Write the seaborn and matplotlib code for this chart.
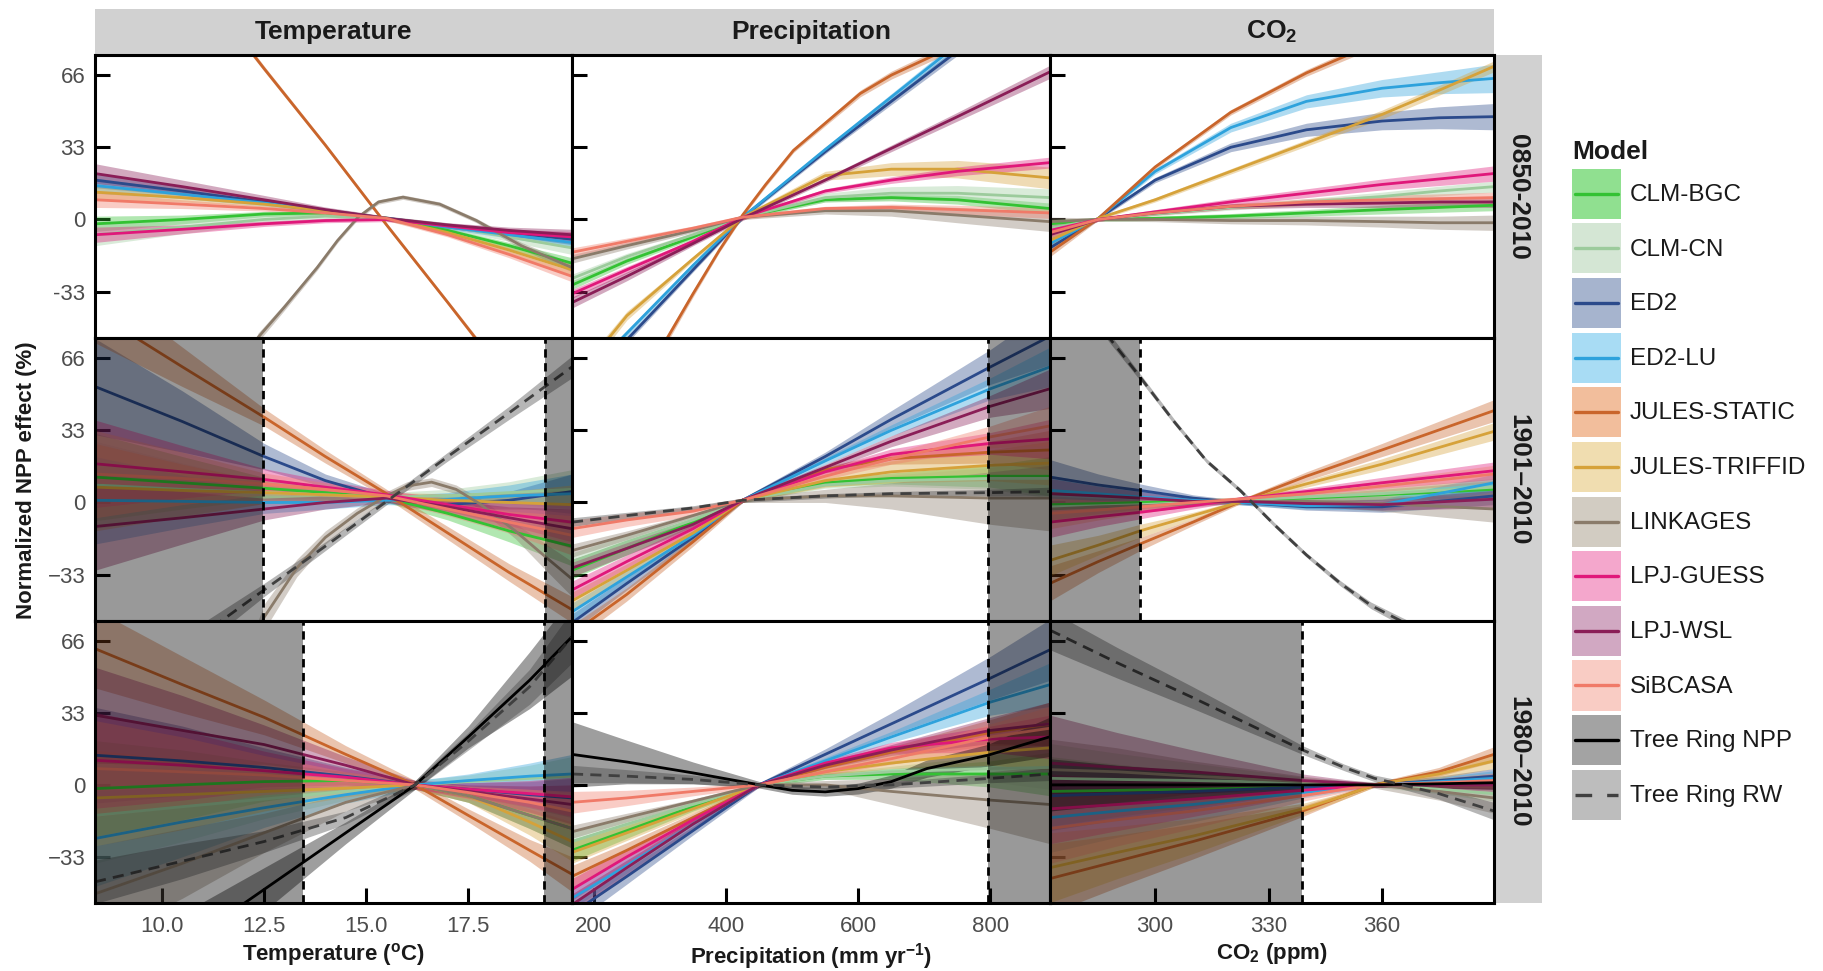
import matplotlib
matplotlib.use("Agg")
import numpy as np
import pandas as pd
import matplotlib.pyplot as plt
import seaborn as sns
from matplotlib.patches import Rectangle
from matplotlib.lines import Line2D
from matplotlib.legend_handler import HandlerBase

sns.set_theme(style="white")
plt.rcParams["font.family"] = ["Liberation Sans", "DejaVu Sans"]
plt.rcParams["mathtext.default"] = "regular"

# ---------------------------------------------------------------- categories
MODELS = ["CLM-BGC", "CLM-CN", "ED2", "ED2-LU", "JULES-STATIC", "JULES-TRIFFID",
          "LINKAGES", "LPJ-GUESS", "LPJ-WSL", "SiBCASA", "Tree Ring NPP", "Tree Ring RW"]
LINE_COLORS = ["#33C233", "#9CCB9C", "#2B4A8B", "#2EA2DC", "#C9652B", "#D6A23A",
               "#8A7B6A", "#E0187A", "#8A1E57", "#F07A68", "#000000", "#404040"]
KEY_FILLS = ["#90E090", "#D4E6D4", "#A6B4CE", "#A8DCF4", "#F2BE9C", "#F0DDB0",
             "#D2CCC2", "#F4A7CC", "#D1A8C2", "#F9CCC4", "#A3A3A3", "#BDBDBD"]

COLUMN_TITLES = ["Temperature", "Precipitation", "CO$_2$"]
ROW_TITLES = ["0850-2010", "1901\u20132010", "1980\u20132010"]
X_LABELS = ["Temperature ($^{o}$C)", "Precipitation (mm yr$^{-1}$)", "CO$_2$ (ppm)"]
Y_LABEL = "Normalized NPP effect (%)"
X_LIMITS = [(8.36, 20.04), (167, 890), (272.2, 389.6)]
X_TICKS = [[10.0, 12.5, 15.0, 17.5], [200, 400, 600, 800], [300, 330, 360]]
X_TICK_LABELS = [["10.0", "12.5", "15.0", "17.5"], ["200", "400", "600", "800"],
                 ["300", "330", "360"]]
Y_LIMITS = (-54.2, 75.2)
Y_TICKS = [-33, 0, 33, 66]
Y_TICK_LABELS = [["-33", "0", "33", "66"], ["\u221233", "0", "33", "66"],
                 ["\u221233", "0", "33", "66"]]

# ---------------------------------------------------------------- 0850-2010
TEMP_X_0850 = [8.36, 10.5, 12.5, 14.0, 15.5, 17.0, 18.5, 20.04]
TEMP_Y_0850 = {
    "CLM-BGC": [-2, 0, 2.5, 3, 0.5, -5, -12, -20],
    "CLM-CN": [-7, -3.5, 0, 1.5, 0.5, -3, -8, -13],
    "ED2": [18, 13, 8, 4, 0.5, -3, -6, -9],
    "ED2-LU": [15.5, 11.5, 7.5, 4, 0.5, -3.5, -7, -10.5],
    "JULES-STATIC": [168, 117, 69, 34, -2.5, -38, -74, -110],
    "JULES-TRIFFID": [12.5, 10, 7, 4, 0.5, -6, -14, -23],
    "LINKAGES": [-80, -54, -40, -22, -9.6, 1, 8, 10.2, 7, -0.5, -12, -22],
    "LPJ-GUESS": [-7, -4.5, -2, -0.5, 0, -3, -6, -8],
    "LPJ-WSL": [21, 15, 9, 4.5, 0.5, -2.5, -5, -7],
    "SiBCASA": [9, 7, 5, 3, 0.5, -7, -16, -26],
}
TEMP_XM_0850 = {
    "LINKAGES": [11.8, 12.35, 13.0, 13.8, 14.3, 14.8, 15.3, 15.9, 16.8, 17.7, 18.8, 20.04],
}
TEMP_SE_0850 = [3.5, 2, 1.2, 1, 1, 1, 1.5, 2.5]
TEMP_SE_0850_MODEL = {
    "LPJ-WSL": [4.5, 3, 2, 1.2, 1, 1, 1.5, 2.5],
    "CLM-CN": [5, 3, 2, 1.2, 1, 1.5, 2, 3],
    "LINKAGES": [2, 2, 1.5, 1.2, 1, 1, 1, 1, 1, 1, 1.5, 2],
}

PREC_X_0850 = [167, 250, 350, 425, 550, 650, 750, 890]
PREC_Y_0850 = {
    "CLM-BGC": [-30, -19, -8, 1, 9, 10, 9, 5],
    "CLM-CN": [-27, -17, -7, 1, 10, 12, 12, 10],
    "ED2": [-82, -55, -23, 1, 31, 54, 77, 110],
    "ED2-LU": [-78, -52, -21, 1, 32, 56, 80, 114],
    "JULES-STATIC": [-60, -34, -14, 2, 16, 31.6, 44, 57.6, 66, 75, 86, 97],
    "JULES-TRIFFID": [-75, -44, -18, 1, 20, 23, 23, 19],
    "LINKAGES": [-18, -12, -5, 1, 4, 4, 2, -1],
    "LPJ-GUESS": [-34, -23, -10, 1, 13, 18, 22, 26],
    "LPJ-WSL": [-38, -26, -11, 0.5, 18, 32.5, 47, 67.5],
    "SiBCASA": [-15, -10, -4, 1, 5, 5.5, 4.5, 3],
}
PREC_XM_0850 = {
    "JULES-STATIC": [300, 350, 390, 425, 460, 502, 550, 603, 650, 714, 800, 890],
}
PREC_SE_0850 = [2, 1.5, 1, 1, 1, 1.5, 2, 2.5]
PREC_SE_0850_MODEL = {
    "JULES-TRIFFID": [3, 2, 1, 1, 2, 3, 4, 5],
    "CLM-CN": [2, 1.5, 1, 1, 2, 3, 3.5, 4],
    "LINKAGES": [2, 1.5, 1, 1, 1.5, 2.5, 3.5, 4.5],
    "LPJ-WSL": [2.5, 2, 1, 1, 1, 1.5, 2, 3],
    "JULES-STATIC": [2, 1.5, 1, 1, 1, 1, 1.2, 1.5, 1.8, 2, 2.5, 3],
}

CO2_X_0850 = [272.2, 285, 300, 320, 340, 360, 375, 389.6]
CO2_Y_0850 = {
    "CLM-BGC": [-2, 0, 0.5, 1.5, 3, 4.5, 5.5, 6.5],
    "CLM-CN": [-4, 0, 2.5, 5.5, 8, 10.5, 13, 15],
    "ED2": [-13, 0.5, 18, 33, 41, 45, 46.5, 47],
    "ED2-LU": [-11, 0.5, 22, 42, 54, 60, 62.5, 64.5],
    "JULES-STATIC": [-15, 0.5, 24, 49, 67, 82, 92, 100],
    "JULES-TRIFFID": [-9.6, 0.5, 9, 22, 35, 48, 59, 70],
    "LINKAGES": [-1, 0, 0, -0.5, -0.5, -1, -1.5, -1.5],
    "LPJ-GUESS": [-5, 0, 3.5, 8, 12, 16, 18.5, 21],
    "LPJ-WSL": [-7, 0, 3, 6, 7, 7.5, 8, 8],
    "SiBCASA": [-6, 0, 3, 6, 8, 9, 9.5, 10],
}
CO2_XM_0850 = {}
CO2_SE_0850 = [2, 0.8, 1, 1.2, 1.5, 2, 2.2, 2.5]
CO2_SE_0850_MODEL = {
    "ED2": [2, 0.8, 1.2, 2, 3, 4, 5, 6],
    "ED2-LU": [2, 0.8, 1.2, 2, 3, 4, 5, 6.5],
    "LINKAGES": [2, 0.8, 1, 1.5, 2, 2.5, 3, 3.5],
    "LPJ-GUESS": [2, 0.8, 1, 1.5, 2, 2.5, 3, 3.5],
}

# ---------------------------------------------------------------- 1901-2010
TEMP_X_1901 = [8.36, 10.5, 12.5, 14.0, 15.5, 17.0, 18.5, 20.04]
TEMP_Y_1901 = {
    "CLM-BGC": [11.6, 9, 6.5, 4.5, 2, -5, -13, -20],
    "CLM-CN": [8, 6, 4.5, 3.5, 2.5, 3, 4.5, 6],
    "ED2": [53, 37, 21, 10, 2, -1, 1, 5],
    "ED2-LU": [1, 0.5, 0, 0, 1, 1.5, 3, 4],
    "JULES-STATIC": [87, 62, 39, 21, 4, -14, -32, -49],
    "JULES-TRIFFID": [7, 5.5, 4.5, 3.5, 2.5, 1, 0, -1],
    "LINKAGES": [-80, -52.5, -30, -16, -5, 3, 7.5, 9.3, 6, -0.6, -13, -25, -35],
    "LPJ-GUESS": [17.7, 14, 10.5, 7, 3.5, -1, -5.5, -9],
    "LPJ-WSL": [-11, -7, -3, 0, 2, -2, -7, -12],
    "SiBCASA": [13, 11, 8.5, 6, 3, -3, -9, -15],
    "Tree Ring RW": [-97, -67, -40, -20, 0.5, 21, 41, 62],
}
TEMP_XM_1901 = {
    "LINKAGES": [12.0, 12.5, 13.3, 14.0, 14.78, 15.5, 16.0, 16.6, 17.2, 17.78, 18.65,
                 19.4, 20.04],
}
TEMP_SE_1901 = [20, 12, 5, 3, 2, 3, 5, 9]
TEMP_SE_1901_MODEL = {
    "JULES-STATIC": [14, 9, 4, 3, 2, 3, 4, 6],
    "Tree Ring RW": [10, 6, 3, 2, 1.5, 2, 3, 5],
    "LINKAGES": [8, 6, 4, 3, 2.5, 2, 2, 2, 2, 2.5, 3.5, 6, 8],
    "ED2": [22, 14, 6, 3, 2, 2, 4, 8],
}

PREC_X_1901 = [167, 250, 350, 425, 550, 650, 800, 890]
PREC_Y_1901 = {
    "CLM-BGC": [-31, -21, -9, 1, 9, 11, 12, 12],
    "CLM-CN": [-27, -18, -8, 1, 8, 10, 11, 11],
    "ED2": [-55, -37, -16, 1, 21, 38, 62, 76],
    "ED2-LU": [-50, -34, -15, 1, 19, 33, 52, 62],
    "JULES-STATIC": [-60, -42, -18, 1, 15, 20, 23, 24],
    "JULES-TRIFFID": [-45, -31, -14, 1, 10, 14, 17, 18],
    "LINKAGES": [-22, -15, -6, 1, 3, 3, 2, 2],
    "LPJ-GUESS": [-40, -27, -12, 1, 14, 22, 27, 29],
    "LPJ-WSL": [-30, -21, -10, 1, 16, 28, 44, 52],
    "SiBCASA": [-12, -8, -4, 1, 12, 20, 30, 35],
    "Tree Ring RW": [-9, -6, -2.5, 1, 3, 4, 4.5, 5],
}
PREC_XM_1901 = {}
PREC_SE_1901 = [4, 3, 2, 1, 1.5, 2.5, 5, 9]
PREC_SE_1901_MODEL = {
    "LINKAGES": [3, 2, 1, 1, 3, 6, 12, 15],
    "ED2": [4, 3, 2, 1, 2, 4, 8, 13],
    "JULES-TRIFFID": [4, 3, 2, 1, 3, 5, 7, 10],
    "Tree Ring RW": [2, 1.5, 1, 1, 1, 1, 1.5, 2],
}

CO2_X_1901 = [272.2, 285, 296, 310, 322, 340, 360, 389.6]
CO2_Y_1901 = {
    "CLM-BGC": [-1, -0.5, 0, 0.5, 1, 2, 3.5, 6],
    "CLM-CN": [-2, -1.5, -1, 0, 1, 2.5, 4, 7],
    "ED2": [11.6, 8, 5.5, 2, 0, -2, -2, 3],
    "ED2-LU": [5.5, 4, 2.5, 1, 0, -1.5, -1, 9],
    "JULES-STATIC": [-37, -27, -19, -9, 0, 12, 24, 42],
    "JULES-TRIFFID": [-26.5, -19.5, -13, -6, 0, 8.5, 17.5, 32.5],
    "LINKAGES": [-3, -2, -1.5, -0.5, 0.5, 0.5, -0.5, -3],
    "LPJ-GUESS": [-9, -6.5, -4.5, -1.5, 1.5, 5, 9, 14.5],
    "LPJ-WSL": [4, 3, 2, 0.5, 0.5, -0.5, -1, 1.5],
    "SiBCASA": [-5, -3.5, -2, 0, 1.5, 4, 7.5, 13],
    "Tree Ring RW": [110, 82, 75, 57.4, 37, 19, 5.5, -9.8, -24, -37, -47, -54, -75],
}
CO2_XM_1901 = {
    "Tree Ring RW": [272.2, 285, 288, 296, 305, 313.6, 322.5, 331.3, 340, 349, 357, 364.8,
                     389.6],
}
CO2_SE_1901 = [7, 4.5, 3, 1.5, 1, 1.5, 2.5, 4]
CO2_SE_1901_MODEL = {
    "LINKAGES": [6, 4, 3, 1.5, 1, 2, 3.5, 6],
    "JULES-STATIC": [8, 5, 3, 1.5, 1, 2, 3, 5],
    "Tree Ring RW": [3, 2, 2, 1.5, 1.2, 1, 1, 1, 1, 1.2, 1.5, 1.8, 2],
    "ED2": [8, 5, 3, 1.5, 1, 1.5, 2.5, 4],
}

# ---------------------------------------------------------------- 1980-2010
TEMP_X_1980 = [8.36, 10.5, 12.5, 14.5, 16.2, 17.5, 19.0, 20.04]
TEMP_Y_1980 = {
    "CLM-BGC": [-1.7, 0, 1.5, 2, 0, -5, -14, -20],
    "CLM-CN": [-14, -10, -6.5, -3, 0, 1.5, 3, 4],
    "ED2": [13.6, 11, 8, 4, 0, -2, -4.5, -6],
    "ED2-LU": [-24.6, -17, -10.5, -4.5, 0, 2, 4, 5],
    "JULES-STATIC": [62.5, 46, 31, 14, 0, -14, -30, -41],
    "JULES-TRIFFID": [-6, -4.5, -3, -1.5, 0, -5, -17, -26],
    "LINKAGES": [-50, -36, -22, -8, 0, -5, -14, -20],
    "LPJ-GUESS": [11.3, 9, 6.5, 3.5, 0, -2, -4, -5.5],
    "LPJ-WSL": [32, 25, 18.5, 9, 0, -3, -6.5, -9],
    "SiBCASA": [7.5, 6, 4.5, 2, 0, -3.5, -8, -12],
    "Tree Ring NPP": [-95, -74, -48, -22, 0, 22, 48, 68],
    "Tree Ring RW": [-44.5, -35, -26, -15, 0, 20, 45, 68],
}
TEMP_XM_1980 = {}
TEMP_SE_1980 = [22, 16, 9, 4, 2, 3, 6, 9]
TEMP_SE_1980_MODEL = {
    "Tree Ring NPP": [20, 15, 10, 5, 2, 5, 13, 18],
    "Tree Ring RW": [10, 8, 5, 3, 2, 4, 8, 12],
    "JULES-STATIC": [18, 13, 8, 4, 2, 3, 5, 8],
}

PREC_X_1980 = [167, 250, 350, 450, 550, 650, 800, 890]
PREC_Y_1980 = {
    "CLM-BGC": [-30, -21, -10, 0, 4, 5, 5, 5],
    "CLM-CN": [-26, -18, -9, 0, 4, 6, 7.5, 8],
    "ED2": [-59, -42, -21, 0, 14, 28, 49, 62],
    "ED2-LU": [-52, -37, -18, 0, 11, 22, 38, 46],
    "JULES-STATIC": [-42, -30, -15, 0, 8, 15, 24, 28],
    "JULES-TRIFFID": [-31, -22, -11, 0, 6, 10, 15, 17],
    "LINKAGES": [-21.5, -15, -7.5, 0, 0, -3, -7, -9],
    "LPJ-GUESS": [-48, -33, -16, 0, 10, 17, 21, 22],
    "LPJ-WSL": [-55, -38, -18, 0, 9, 16, 25, 28],
    "SiBCASA": [-8, -6, -3, 0, 6, 12, 22, 26],
    "Tree Ring NPP": [14, 10.5, 5.5, 0, -2.5, -3.2, -1.7, 1.5, 7.5, 13.6, 22],
    "Tree Ring RW": [5, 4, 2.5, 0, -1, 0, 3, 5],
}
PREC_XM_1980 = {
    "Tree Ring NPP": [167, 250, 350, 451, 500, 550, 600, 650, 704, 796, 889],
}
PREC_SE_1980 = [5, 3.5, 2, 1, 1.5, 2.5, 6, 10]
PREC_SE_1980_MODEL = {
    "LINKAGES": [3, 2, 1, 1, 2, 6, 13, 18],
    "Tree Ring NPP": [15, 10, 5, 1.5, 1.8, 2, 2.5, 3, 4, 5, 9],
    "Tree Ring RW": [4, 3, 2, 1, 1, 1.5, 2, 3],
    "ED2": [5, 3.5, 2, 1, 2.5, 5, 10, 14],
}

CO2_X_1980 = [272.2, 290, 310, 339, 350, 358, 375, 389.6]
CO2_Y_1980 = {
    "CLM-BGC": [-3, -2.5, -2, -1, -0.5, 0, 1, 1.5],
    "CLM-CN": [3, 2.5, 2, 1, 0.5, 0, -2, -4],
    "ED2": [-5, -4, -3, -1, -0.5, 0, 2, 4],
    "ED2-LU": [-15, -12, -9, -3.5, -1.5, 0, 1.5, 3],
    "JULES-STATIC": [-43, -35, -26, -12, -5, 0, 6, 14],
    "JULES-TRIFFID": [-38, -31, -23.5, -11, -5, 0, 5, 11],
    "LINKAGES": [7, 6, 4, 1.5, 0.5, 0, -3, -6],
    "LPJ-GUESS": [-11, -9, -6.5, -2.5, -1, 0, 0.5, 1.5],
    "LPJ-WSL": [10, 8, 6, 2, 1, 0, 0, 0],
    "SiBCASA": [-20, -16, -12, -5, -2, 0, 1, 2],
    "Tree Ring NPP": [0, 0, 0, 0, 0, 0, 0.5, 1],
    "Tree Ring RW": [71, 56, 40, 16, 8, 3, -4, -12],
}
CO2_XM_1980 = {}
CO2_SE_1980 = [16, 12, 8, 2.5, 1.5, 1, 2, 3.5]
CO2_SE_1980_MODEL = {
    "LPJ-WSL": [22, 16, 10, 3, 1.5, 1, 2, 3],
    "Tree Ring RW": [9, 7, 5, 2, 1.5, 1.5, 2.5, 4],
    "Tree Ring NPP": [12, 9, 6, 2, 1.5, 1, 2, 3],
    "LINKAGES": [14, 11, 7, 2.5, 1.5, 1.5, 4, 7],
}

# out-of-range (shaded) intervals, per (row, col)
GRAY_RANGES = {
    (1, 0): [(8.36, 12.48), (19.38, 20.04)],
    (1, 1): [(796, 890)],
    (1, 2): [(272.2, 296)],
    (2, 0): [(8.36, 13.45), (19.36, 20.04)],
    (2, 1): [(796, 890)],
    (2, 2): [(272.2, 338.9)],
}

PANELS = {
    (0, 0): (TEMP_X_0850, TEMP_XM_0850, TEMP_Y_0850, TEMP_SE_0850, TEMP_SE_0850_MODEL),
    (0, 1): (PREC_X_0850, PREC_XM_0850, PREC_Y_0850, PREC_SE_0850, PREC_SE_0850_MODEL),
    (0, 2): (CO2_X_0850, CO2_XM_0850, CO2_Y_0850, CO2_SE_0850, CO2_SE_0850_MODEL),
    (1, 0): (TEMP_X_1901, TEMP_XM_1901, TEMP_Y_1901, TEMP_SE_1901, TEMP_SE_1901_MODEL),
    (1, 1): (PREC_X_1901, PREC_XM_1901, PREC_Y_1901, PREC_SE_1901, PREC_SE_1901_MODEL),
    (1, 2): (CO2_X_1901, CO2_XM_1901, CO2_Y_1901, CO2_SE_1901, CO2_SE_1901_MODEL),
    (2, 0): (TEMP_X_1980, TEMP_XM_1980, TEMP_Y_1980, TEMP_SE_1980, TEMP_SE_1980_MODEL),
    (2, 1): (PREC_X_1980, PREC_XM_1980, PREC_Y_1980, PREC_SE_1980, PREC_SE_1980_MODEL),
    (2, 2): (CO2_X_1980, CO2_XM_1980, CO2_Y_1980, CO2_SE_1980, CO2_SE_1980_MODEL),
}

PALETTE = dict(zip(MODELS, LINE_COLORS))
DASHES = {m: ("" if m != "Tree Ring RW" else (4, 2.6)) for m in MODELS}

# ---------------------------------------------------------------- layout
W, H = 1824, 971
COL_EDGES = [95, 572, 1050, 1494]
ROW_EDGES = [55, 338, 621, 903]
STRIP_TOP = 9
RIGHT_STRIP = (1494, 1542)
STRIP_COLOR = "#D1D1D1"
TEXT_DARK = "#1A1A1A"
TICK_GRAY = "#4D4D4D"


def fig_rect(x0, y0, x1, y1):
    return [x0 / W, 1 - y1 / H, (x1 - x0) / W, (y1 - y0) / H]


fig = plt.figure(figsize=(W / 100, H / 100), dpi=100)
fig.patch.set_facecolor("white")

for c in range(3):
    sax = fig.add_axes(fig_rect(COL_EDGES[c], STRIP_TOP, COL_EDGES[c + 1], ROW_EDGES[0]))
    sax.set_facecolor(STRIP_COLOR)
    sax.set_xticks([]); sax.set_yticks([])
    for s in sax.spines.values():
        s.set_visible(False)
    sax.text(0.5, 0.5, COLUMN_TITLES[c], ha="center", va="center", fontsize=19,
             fontweight="bold", color=TEXT_DARK, transform=sax.transAxes)

for r in range(3):
    rax = fig.add_axes(fig_rect(RIGHT_STRIP[0], ROW_EDGES[r], RIGHT_STRIP[1], ROW_EDGES[r + 1]))
    rax.set_facecolor(STRIP_COLOR)
    rax.set_xticks([]); rax.set_yticks([])
    for s in rax.spines.values():
        s.set_visible(False)
    rax.text(0.5, 0.5, ROW_TITLES[r], ha="center", va="center", rotation=-90, fontsize=19,
             fontweight="bold", color=TEXT_DARK, transform=rax.transAxes)

for r in range(3):
    for c in range(3):
        ax = fig.add_axes(fig_rect(COL_EDGES[c], ROW_EDGES[r], COL_EDGES[c + 1], ROW_EDGES[r + 1]))
        ax.set_facecolor("white")
        xs, xs_model, ydict, se_shared, se_model = PANELS[(r, c)]
        present = [m for m in MODELS if m in ydict]
        rows = []
        for m in present:
            xm = xs_model.get(m, xs)
            se = se_model.get(m, se_shared)
            for xv, yv, sv in zip(xm, ydict[m], se):
                rows.append({"model": m, "x": xv, "y": yv, "lo": yv - sv, "hi": yv + sv})
        df = pd.DataFrame(rows)

        for m in present:
            d = df[df.model == m]
            ax.fill_between(d.x, d.lo, d.hi, color=PALETTE[m], alpha=0.38, lw=0, zorder=2)

        sns.lineplot(data=df, x="x", y="y", hue="model", style="model",
                     hue_order=present, style_order=present, palette=PALETTE,
                     dashes={m: DASHES[m] for m in present}, estimator=None,
                     sort=False, legend=False, ax=ax, linewidth=2.0, zorder=3)

        for (a, b) in GRAY_RANGES.get((r, c), []):
            ax.axvspan(a, b, color="black", alpha=0.4, lw=0, zorder=5)
            if a > X_LIMITS[c][0] + 1e-6:
                ax.axvline(a, color="black", lw=2.0, ls=(0, (3, 2)), zorder=6)
            if b < X_LIMITS[c][1] - 1e-6:
                ax.axvline(b, color="black", lw=2.0, ls=(0, (3, 2)), zorder=6)

        ax.set_xlim(*X_LIMITS[c])
        ax.set_ylim(*Y_LIMITS)
        ax.set_yticks(Y_TICKS)
        ax.tick_params(axis="both", which="major", direction="in", length=11, width=2.2,
                       color="black", labelsize=16, labelcolor=TICK_GRAY,
                       top=False, right=False)
        ax.tick_params(axis="y", pad=7, left=True)
        if r == 2:
            ax.set_xticks(X_TICKS[c])
            ax.set_xticklabels(X_TICK_LABELS[c])
            ax.tick_params(axis="x", pad=9, bottom=True)
            ax.set_xlabel(X_LABELS[c], fontsize=16, fontweight="bold", color=TEXT_DARK,
                          labelpad=3)
        else:
            ax.set_xticks([])
            ax.set_xlabel("")
        if c == 0:
            ax.set_yticklabels(Y_TICK_LABELS[r])
        else:
            ax.set_yticklabels([])
        ax.set_ylabel("")
        for s in ax.spines.values():
            s.set_visible(True)
            s.set_color("black")
            s.set_linewidth(2.2)
            s.set_zorder(7)

fig.text(27 / W, 1 - 480 / H, Y_LABEL, rotation=90, ha="center", va="center",
         fontsize=16, fontweight="bold", color=TEXT_DARK)


# ---------------------------------------------------------------- legend
class RibbonKey:
    def __init__(self, fill, line, dashed):
        self.fill = fill
        self.line = line
        self.dashed = dashed


class RibbonKeyHandler(HandlerBase):
    def create_artists(self, legend, orig_handle, xdescent, ydescent, width, height,
                       fontsize, trans):
        rect = Rectangle((-xdescent, -ydescent), width, height, facecolor=orig_handle.fill,
                         edgecolor="none", transform=trans)
        yc = -ydescent + height / 2
        ls = (0, (5, 4.5)) if orig_handle.dashed else "-"
        line = Line2D([-xdescent + 0.06 * width, -xdescent + 0.94 * width], [yc, yc],
                      color=orig_handle.line, lw=2.4, linestyle=ls, transform=trans)
        return [rect, line]


handles = [RibbonKey(f, l, m == "Tree Ring RW") for m, f, l in zip(MODELS, KEY_FILLS, LINE_COLORS)]
leg = fig.legend(handles, MODELS, handler_map={RibbonKey: RibbonKeyHandler()},
                 loc="upper left", bbox_to_anchor=(1572 / W, 1 - 140 / H), frameon=False,
                 title="Model", title_fontproperties={"weight": "bold", "size": 19},
                 fontsize=17.5, handlelength=2.0, handleheight=2.79, labelspacing=0.19,
                 handletextpad=0.37, borderpad=0, borderaxespad=0, alignment="left")
for t in leg.get_texts():
    t.set_color(TEXT_DARK)
leg.get_title().set_color(TEXT_DARK)

fig.savefig("out.png", dpi=100, facecolor="white")
